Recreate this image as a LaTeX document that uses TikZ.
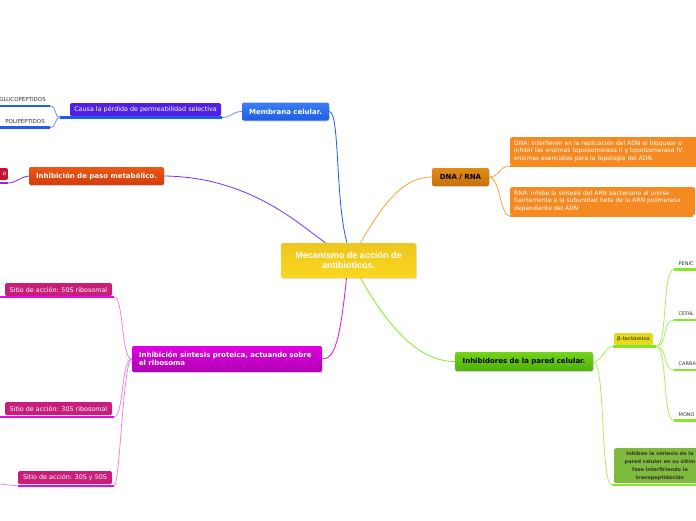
\documentclass[tikz,border=0pt]{standalone}
\usepackage{fontspec}
\setmainfont{DejaVu Sans}
\newfontfamily\arialb{Liberation Sans}
\usetikzlibrary{shadows,calc}
\definecolor{cenT}{HTML}{EEC51E}
\definecolor{cenB}{HTML}{FAD820}
\definecolor{memT}{HTML}{3B7DF6}
\definecolor{memB}{HTML}{1E5EE6}
\definecolor{causaC}{HTML}{4F1FE2}
\definecolor{blueUL}{HTML}{1E5CF0}
\definecolor{blueCn}{HTML}{6F8FF2}
\definecolor{pasoT}{HTML}{EC5616}
\definecolor{pasoB}{HTML}{D23C0A}
\definecolor{redC}{HTML}{C41232}
\definecolor{purpUL}{HTML}{8A28E6}
\definecolor{purpCn}{HTML}{7A30F0}
\definecolor{dnaT}{HTML}{E08C18}
\definecolor{dnaB}{HTML}{C87008}
\definecolor{orgC}{HTML}{F58A22}
\definecolor{orgCn}{HTML}{F7A53A}
\definecolor{grnT}{HTML}{74D41A}
\definecolor{grnB}{HTML}{4EB00A}
\definecolor{grnUL}{HTML}{86E824}
\definecolor{grnCn}{HTML}{A8F060}
\definecolor{betaC}{HTML}{E4DA22}
\definecolor{betaT}{HTML}{6E5E10}
\definecolor{inhC}{HTML}{7DBA3E}
\definecolor{magT}{HTML}{E000E0}
\definecolor{magB}{HTML}{B000B4}
\definecolor{magUL}{HTML}{E010E0}
\definecolor{magCn}{HTML}{F080F0}
\definecolor{sitioC}{HTML}{C81E7A}
\definecolor{lblC}{HTML}{333333}
\tikzset{
  box/.style={rectangle, rounded corners=2pt, inner sep=0pt, align=center,
    drop shadow={shadow xshift=0.8pt, shadow yshift=-1.2pt, opacity=0.25}},
  flatbox/.style={rectangle, rounded corners=1.5pt, inner sep=0pt, align=center},
  conn/.style={line width=0.8pt},
  ul/.style={line width=2.2pt},
  lbl/.style={inner sep=0pt, text=lblC, font=\fontsize{5.5}{6.5}\selectfont},
  sublbl/.style={inner sep=0pt, text=lblC, font=\fontsize{5}{6}\selectfont},
  topic/.style={font=\bfseries\fontsize{7}{8.5}\selectfont},
}
\begin{document}
\begin{tikzpicture}[x=1pt,y=-1pt]
\useasboundingbox (0,0) rectangle (696,520);
\fill[white] (0,0) rectangle (696,520);
\clip (0,0) rectangle (696,520);

% central
\node[box, top color=cenT, bottom color=cenB, minimum width=135pt, minimum height=35pt,
  text=white, font=\arialb\bfseries\fontsize{9}{10}\selectfont] (c) at (348.5,260.5)
  {Mecanismo de acción de\\antibioticos.};

% Membrana branch
\node[box, top color=memT, bottom color=memB, minimum width=87pt, minimum height=18pt,
  text=white, topic] (mem) at (285.5,111.5) {Membrana celular.};
\node[flatbox, fill=causaC, minimum width=151pt, minimum height=13pt, text=white,
  font=\fontsize{6.4}{7.5}\selectfont] (causa) at (145.5,109.5)
  {Causa la pérdida de permeabilidad selectiva};
\coordinate (causaL) at (60,117.5);
\coordinate (causaR) at (222,117.5);
\draw[ul, blueUL] (causaL) -- (causaR);
\node[lbl, anchor=base east] (glu) at (46,101) {GLUCOPÉPTIDOS};
\node[lbl, anchor=base east] (poli) at (45,123) {POLIPÉPTIDOS};
\coordinate (gluL) at (0,106);
\coordinate (gluR) at (50,106);
\coordinate (poliL) at (0,127.5);
\coordinate (poliR) at (50,127.5);
\draw[ul, blueUL] (gluL) -- (gluR);
\draw[ul, blueUL] (poliL) -- (poliR);
\draw[conn, blueCn] (causaL) .. controls (54,117.5) and (57,106) .. (gluR);
\draw[conn, blueCn] (causaL) .. controls (54,117.5) and (57,127.5) .. (poliR);
\draw[conn, blueCn] (mem.west) .. controls (232,111.5) and (232,117.5) .. (causaR);
\draw[conn, blueUL] (mem.east) .. controls (340,111.5) and (335,200) .. ($(c.north)+(-1.5,0)$);

% Paso metabolico branch
\node[box, top color=pasoT, bottom color=pasoB, minimum width=135pt, minimum height=18pt,
  text=white, topic] (paso) at (96.5,176) {Inhibición de paso metabólico.};
\node[flatbox, fill=redC, anchor=east, minimum height=12pt, text width=17pt, align=right,
  inner xsep=1.5pt, text=white, font=\fontsize{6}{7}\selectfont] (redo) at (8,174) {o};
\coordinate (redL) at (0,183);
\coordinate (redR) at (8,183);
\draw[ul, purpUL] (redL) -- (redR);
\draw[conn, purpCn] (paso.west) .. controls (20,177) and (16,183) .. (redR);
\draw[conn, purpCn] (paso.east) .. controls (250,177) and (300,225) .. ($(c.north)+(-23,0)$);

% DNA / RNA branch
\node[box, top color=dnaT, bottom color=dnaB, minimum width=57pt, minimum height=18pt,
  text=black, topic] (dna) at (460.5,177) {DNA / RNA};
\node[flatbox, fill=orgC, anchor=north west, minimum width=186pt, minimum height=28pt,
  text width=180pt, align=left, inner xsep=4pt, text=white,
  font=\fontsize{6}{7.7}\selectfont] (dnab) at (510,137)
  {DNA: interfieren en la replicación del ADN al bloquear o\\inhibir las enzimas topoisomerasa II y topoisomerasa IV,\\enzimas esenciales para la topología del ADN.};
\node[flatbox, fill=orgC, anchor=north west, minimum width=183pt, minimum height=28pt,
  text width=177pt, align=left, inner xsep=4pt, text=white,
  font=\fontsize{6}{7.7}\selectfont] (rnab) at (510,187)
  {RNA: inhibe la síntesis del ARN bacteriano al unirse\\fuertemente a la subunidad beta de la ARN polimerasa\\dependiente del ADN};
\coordinate (dnabL) at (510,166);
\coordinate (dnabR) at (696,166);
\coordinate (rnabL) at (510,216);
\coordinate (rnabR) at (693,216);
\draw[ul, orgC] (dnabL) -- (dnabR);
\draw[ul, orgC] (rnabL) -- (rnabR);
\draw[conn, orgCn] (dna.east) .. controls (500,177) and (499,166) .. (dnabL);
\draw[conn, orgCn] (dna.east) .. controls (500,177) and (500,216) .. (rnabL);
\draw[conn, orgCn] ($(c.north)+(12,0)$) .. controls (385,200) and (405,177) .. (dna.west);

% Pared celular branch
\node[box, top color=grnT, bottom color=grnB, minimum width=138pt, minimum height=19pt,
  text=black, topic] (pared) at (524,361.5) {Inhibidores de la pared celular.};
\node[flatbox, fill=betaC, minimum width=39pt, minimum height=12pt, text=betaT,
  font=\bfseries\fontsize{5}{6}\selectfont] (beta) at (633.5,339) {β-lactámico};
\coordinate (betaL) at (613,346.5);
\coordinate (betaR) at (656,346.5);
\draw[ul, grnUL] (betaL) -- (betaR);
\node[sublbl, anchor=base west] (pen) at (678.5,265) {PENIC};
\node[sublbl, anchor=base west] (cef) at (678.5,315) {CEFAL};
\node[sublbl, anchor=base west] (car) at (678.5,365) {CARBA};
\node[sublbl, anchor=base west] (mon) at (678.5,416) {MONO};
\coordinate (penL) at (674,269.5);
\coordinate (penR) at (696,269.5);
\coordinate (cefL) at (674,320);
\coordinate (cefR) at (696,320);
\coordinate (carL) at (674,370);
\coordinate (carR) at (696,370);
\coordinate (monL) at (674,420.5);
\coordinate (monR) at (696,420.5);
\foreach \a/\b in {penL/penR, cefL/cefR, carL/carR, monL/monR}
  \draw[ul, grnUL] (\a) -- (\b);
\foreach \t in {penL, cefL, carL, monL}
  \draw[conn, grnCn] (betaR) .. controls (668,346.5) and (662,0 |- \t) .. (\t);
\node[flatbox, fill=inhC, anchor=north west, minimum width=100pt, minimum height=35pt]
  (inh) at (614,448) {};
\node[inner sep=0pt, align=center, text=black!80!olive,
  font=\bfseries\fontsize{5}{8}\selectfont] (inhT) at (660,466)
  {Inhiben la síntesis de la\\pared celular en su últim\\fase interfiriendo la\\transpeptidación};
\coordinate (inhL) at (612,485);
\coordinate (inhR) at (696,485);
\draw[ul, grnUL] (inhL) -- (inhR);
\draw[conn, grnCn] (pared.east) .. controls (603,361.5) and (604,346.5) .. (betaL);
\draw[conn, grnCn] (pared.east) .. controls (606,363) and (600,485) .. (inhL);
\draw[conn, grnUL] ($(c.south)+(12,0)$) .. controls (390,330) and (420,361.5) .. (pared.west);

% Proteica branch
\node[box, top color=magT, bottom color=magB, minimum width=190pt, minimum height=26pt,
  text width=176pt, align=left, inner xsep=7pt, text=white,
  font=\bfseries\fontsize{7}{8}\selectfont] (prot) at (227,359)
  {Inhibición síntesis proteica, actuando sobre\\el ribosoma};
\node[flatbox, fill=sitioC, minimum width=107pt, minimum height=13pt, text=white,
  font=\fontsize{6.4}{7.5}\selectfont] (s50) at (58.5,289.5) {Sitio de acción: 50S ribosomal};
\node[flatbox, fill=sitioC, minimum width=107pt, minimum height=13pt, text=white,
  font=\fontsize{6.4}{7.5}\selectfont] (s30) at (58.5,408.5) {Sitio de acción: 30S ribosomal};
\node[flatbox, fill=sitioC, minimum width=94pt, minimum height=13pt, text=white,
  font=\fontsize{6.4}{7.5}\selectfont] (s3050) at (65,477.5) {Sitio de acción: 30S y 50S};
\coordinate (s50L) at (0,297);
\coordinate (s50R) at (114,297);
\coordinate (s30L) at (0,417);
\coordinate (s30R) at (114,417);
\coordinate (s3050L) at (18,486);
\coordinate (s3050R) at (114,486);
\coordinate (s3050out) at (0,484);
\draw[ul, magUL] (s50L) -- (s50R);
\draw[ul, magUL] (s30L) -- (s30R);
\draw[ul, magUL] (s3050L) -- (s3050R);
\draw[conn, magCn] (s3050L) -- (s3050out);
\draw[conn, magCn] (prot.west) .. controls (121,359) and (124,297) .. (s50R);
\draw[conn, magCn] (prot.west) .. controls (121,359) and (124,417) .. (s30R);
\draw[conn, magCn] (prot.west) .. controls (123,359) and (120,486) .. (s3050R);
\draw[conn, magUL] ($(c.south)+(-2,0)$) .. controls (340,340) and (335,359) .. (prot.east);
\end{tikzpicture}
\end{document}
